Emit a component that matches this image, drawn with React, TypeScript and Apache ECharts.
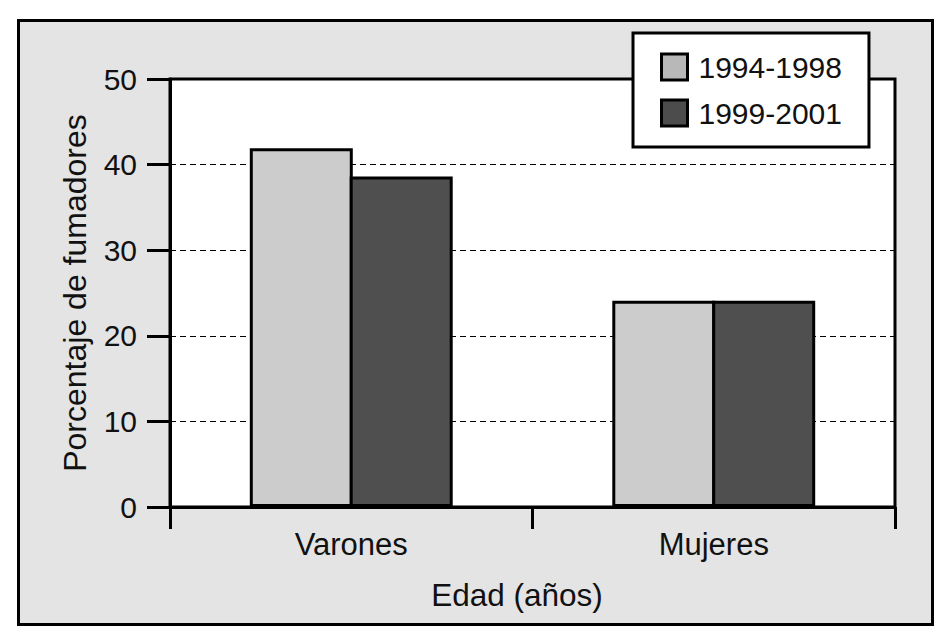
import React, { useEffect, useRef } from "react";
import * as echarts from "echarts";

const categories = ["Varones", "Mujeres"];
const seriesNames = ["1994-1998", "1999-2001"];
const values1994 = [41.9, 24.1];
const values1999 = [38.6, 24.1];
const yTicks = [0, 10, 20, 30, 40, 50];

const FONT = "'Liberation Sans', Arial, Helvetica, sans-serif";

export default function App() {
  const ref = useRef<HTMLDivElement>(null);
  useEffect(() => {
    if (!ref.current) return;
    const chart = echarts.init(ref.current, null, { renderer: "svg" });
    chart.setOption({
      animation: false,
      textStyle: { fontFamily: FONT },
      graphic: [
        {
          type: "rect",
          z: -10,
          silent: true,
          shape: { x: 18.5, y: 20.5, width: 914, height: 604 },
          style: { fill: "#e4e4e4", stroke: "#000", lineWidth: 3 },
        },
        {
          type: "text",
          x: 517,
          y: 595,
          style: {
            text: "Edad (años)",
            font: `31.5px ${FONT}`,
            fill: "#111",
            align: "center",
            verticalAlign: "middle",
          },
        },
      ],
      grid: {
        left: 170,
        right: 50,
        top: 79,
        bottom: 128,
        show: true,
        backgroundColor: "#fff",
        borderColor: "#000",
        borderWidth: 3,
      },
      legend: {
        orient: "vertical",
        left: 633,
        top: 33,
        padding: [19, 27, 19, 27],
        backgroundColor: "#fff",
        borderColor: "#000",
        borderWidth: 3,
        itemWidth: 26,
        itemHeight: 26,
        itemGap: 16,
        icon: "rect",
        textStyle: { fontSize: 30, color: "#111", fontFamily: FONT, padding: [0, 0, 0, 6] },
        data: [
          { name: seriesNames[0], itemStyle: { color: "#b8b8b8", borderColor: "#000", borderWidth: 3 } },
          { name: seriesNames[1], itemStyle: { color: "#4c4c4c", borderColor: "#000", borderWidth: 3 } },
        ],
      },
      xAxis: {
        type: "category",
        data: categories,
        boundaryGap: true,
        axisLine: { lineStyle: { color: "#000", width: 3 } },
        axisTick: { show: true, length: 22, lineStyle: { color: "#000", width: 3 } },
        axisLabel: { fontSize: 31, color: "#111", margin: 22, fontFamily: FONT },
        splitLine: { show: false },
      },
      yAxis: {
        type: "value",
        min: yTicks[0],
        max: yTicks[yTicks.length - 1],
        interval: 10,
        name: "Porcentaje de fumadores",
        nameLocation: "middle",
        nameGap: 79,
        nameTextStyle: { fontSize: 32, color: "#111", fontFamily: FONT },
        axisLine: { show: true, lineStyle: { color: "#000", width: 3 } },
        axisTick: { show: true, length: 23, lineStyle: { color: "#000", width: 3 } },
        axisLabel: { fontSize: 30, color: "#111", margin: 33, fontFamily: FONT },
        splitLine: { show: true, lineStyle: { color: "#000", width: 1, type: [6, 4] } },
      },
      series: [
        {
          name: seriesNames[0],
          type: "bar",
          data: values1994,
          barWidth: 103,
          barGap: "-3%",
          itemStyle: { color: "#cccccc", borderColor: "#000", borderWidth: 3 },
        },
        {
          name: seriesNames[1],
          type: "bar",
          data: values1999,
          barWidth: 103,
          barGap: "-3%",
          itemStyle: { color: "#4f4f4f", borderColor: "#000", borderWidth: 3 },
        },
      ],
    });
    return () => chart.dispose();
  }, []);
  return (
    <div
      ref={ref}
      style={{ position: "fixed", left: 0, top: 0, width: 945, height: 635, background: "#fff" }}
    />
  );
}
